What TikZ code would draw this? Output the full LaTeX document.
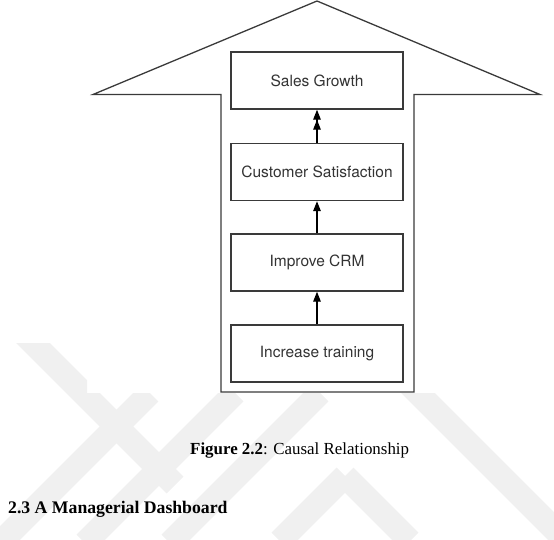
\documentclass[tikz,border=0pt]{standalone}
\usepackage{fontspec}
\setmainfont{Liberation Serif}
\newfontfamily\heros{TeX Gyre Heros}
\usetikzlibrary{arrows.meta}
\definecolor{edgegray}{HTML}{3A3A3A}
\definecolor{textgray}{HTML}{333333}
\definecolor{wmark}{HTML}{F0F0F0}
\tikzset{
  stagebox/.style={draw=edgegray, line width=1.4pt, minimum width=172pt, minimum height=57pt,
    inner sep=0pt, text=textgray, font=\heros\fontsize{15.5}{18}\selectfont},
  upflow/.style={draw=black, line width=1.3pt, -{Triangle[length=10pt,width=7.5pt]}},
  upflowtwo/.style={draw=black, line width=1.3pt, -{Triangle[length=10pt,width=7.5pt]Triangle[length=10pt,width=7.5pt]}},
  wband/.style={draw=wmark, line width=24pt},
}
\begin{document}
\begin{tikzpicture}[x=1pt,y=-1pt]
\useasboundingbox (0,0) rectangle (554,540);
% faint watermark
\begin{scope}
  \clip (0,343) rectangle (87,393) (0,393) rectangle (554,540);
  \draw[wband] (10,320) -- (175,485);
\end{scope}
\begin{scope}
  \clip (0,393) rectangle (554,540);
  \draw[wband] (150,393) -- (0,543);
  \draw[wband] (235,393) -- (85,543);
  \draw[wband] (320,393) -- (170,543);
  \draw[wband] (405,380) -- (560,535);
  \draw[wband] (345,476) -- (280,541);
  \draw[wband] (345,476) -- (410,541);
\end{scope}
% big arrow outline
\draw[edgegray, line width=1.3pt, line join=miter]
  (93,94.5) -- (317,1) -- (540,94.5) -- (414,94.5) -- (414,392) -- (221,392) -- (221,94.5) -- cycle;
% stages
\node[stagebox] (sg)  at (317,80.5)  {Sales Growth};
\node[stagebox] (cs)  at (317,172)   {Customer Satisfaction};
\node[stagebox] (crm) at (317,262.5) {Improve CRM};
\node[stagebox] (it)  at (317,353.5) {Increase training};
% causal arrows
\draw[upflowtwo] (cs.north) -- (sg.south);
\draw[upflow] (crm.north) -- (cs.south);
\draw[upflow] (it.north) -- (crm.south);
% caption and heading
\node[anchor=base west, inner sep=0pt, font=\fontsize{16.9}{20}\selectfont] (cap) at (190,454)
  {\textbf{Figure 2.2}: Causal Relationship};
\node[anchor=base west, inner sep=0pt, font=\fontsize{17.7}{21}\selectfont\bfseries] (head) at (8,513)
  {2.3 A Managerial Dashboard};
\end{tikzpicture}
\end{document}
